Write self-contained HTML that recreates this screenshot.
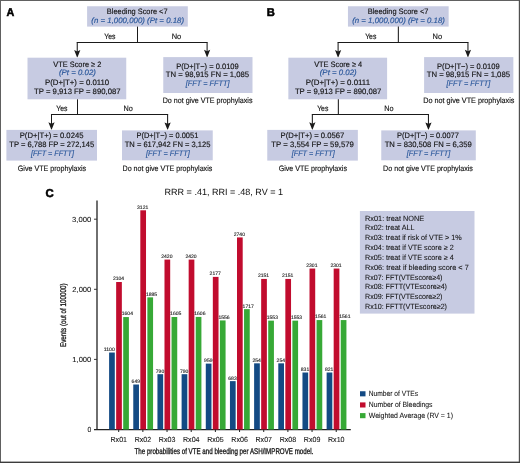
<!DOCTYPE html>
<html><head><meta charset="utf-8"><title>Figure</title>
<style>
html,body{margin:0;padding:0;background:#fff;}
body{width:520px;height:463px;overflow:hidden;font-family:"Liberation Sans",sans-serif;}
svg{display:block;will-change:transform;}
svg text{font-family:"Liberation Sans",sans-serif;text-rendering:geometricPrecision;}
</style></head><body>
<svg width="520" height="463" viewBox="0 0 520 463">
<rect x="0" y="0" width="520" height="463" fill="#ffffff"/>
<text x="6.50" y="15.80" font-size="11.4" text-anchor="start" fill="#000" font-weight="bold" textLength="7.80" lengthAdjust="spacingAndGlyphs" stroke="#000" stroke-width="0.55" stroke-linejoin="round">A</text>
<text x="266.80" y="15.80" font-size="11.2" text-anchor="start" fill="#000" font-weight="bold" stroke="#000" stroke-width="0.55" stroke-linejoin="round">B</text>
<rect x="87.10" y="6.25" width="100.70" height="20.35" fill="#c7cbe2"/>
<text x="137.20" y="14.40" font-size="7.8" text-anchor="middle" fill="#141414" textLength="60.75" lengthAdjust="spacingAndGlyphs" stroke="#141414" stroke-width="0.15" stroke-linejoin="round">Bleeding Score &lt;7</text>
<text x="137.70" y="23.30" font-size="7.8" text-anchor="middle" fill="#2a579b" font-style="italic" textLength="92.80" lengthAdjust="spacingAndGlyphs" stroke="#2a579b" stroke-width="0.15" stroke-linejoin="round">(n = 1,000,000) (Pt = 0.18)</text>
<line x1="137.50" y1="26.60" x2="137.50" y2="42.50" stroke="#1a1a1a" stroke-width="1.05"/>
<line x1="76.72" y1="42.50" x2="207.62" y2="42.50" stroke="#1a1a1a" stroke-width="1.05"/>
<line x1="77.25" y1="42.50" x2="77.25" y2="54.10" stroke="#1a1a1a" stroke-width="1.05"/>
<path d="M74.15,50.10 L77.25,51.50 L80.35,50.10 L77.50,57.30 L77.00,57.30 Z" fill="#1a1a1a"/>
<line x1="207.10" y1="42.50" x2="207.10" y2="53.80" stroke="#1a1a1a" stroke-width="1.05"/>
<path d="M204.00,49.80 L207.10,51.20 L210.20,49.80 L207.35,57.00 L206.85,57.00 Z" fill="#1a1a1a"/>
<text x="109.90" y="39.40" font-size="7.8" text-anchor="middle" fill="#141414" textLength="11.25" lengthAdjust="spacingAndGlyphs" stroke="#141414" stroke-width="0.15" stroke-linejoin="round">Yes</text>
<text x="176.50" y="39.40" font-size="7.8" text-anchor="middle" fill="#141414" textLength="9.50" lengthAdjust="spacingAndGlyphs" stroke="#141414" stroke-width="0.15" stroke-linejoin="round">No</text>
<rect x="27.50" y="57.70" width="98.75" height="41.60" fill="#c7cbe2"/>
<text x="77.30" y="66.60" font-size="7.8" text-anchor="middle" fill="#141414" textLength="48.00" lengthAdjust="spacingAndGlyphs" stroke="#141414" stroke-width="0.15" stroke-linejoin="round">VTE Score ≥ 2</text>
<text x="77.40" y="75.30" font-size="7.8" text-anchor="middle" fill="#2a579b" font-style="italic" textLength="37.00" lengthAdjust="spacingAndGlyphs" stroke="#2a579b" stroke-width="0.15" stroke-linejoin="round">(Pt = 0.02)</text>
<text x="77.10" y="84.50" font-size="7.8" text-anchor="middle" fill="#141414" textLength="64.25" lengthAdjust="spacingAndGlyphs" stroke="#141414" stroke-width="0.15" stroke-linejoin="round">P(D+|T+) = 0.0110</text>
<text x="77.30" y="93.50" font-size="7.8" text-anchor="middle" fill="#141414" textLength="86.50" lengthAdjust="spacingAndGlyphs" stroke="#141414" stroke-width="0.15" stroke-linejoin="round">TP = 9,913 FP = 890,087</text>
<rect x="163.25" y="57.10" width="89.25" height="35.90" fill="#c7cbe2"/>
<text x="207.50" y="68.75" font-size="7.8" text-anchor="middle" fill="#141414" textLength="62.50" lengthAdjust="spacingAndGlyphs" stroke="#141414" stroke-width="0.15" stroke-linejoin="round">P(D+|T−) = 0.0109</text>
<text x="207.50" y="77.40" font-size="7.8" text-anchor="middle" fill="#141414" textLength="83.30" lengthAdjust="spacingAndGlyphs" stroke="#141414" stroke-width="0.15" stroke-linejoin="round">TN = 98,915 FN = 1,085</text>
<text x="207.60" y="86.00" font-size="7.8" text-anchor="middle" fill="#2a579b" font-style="italic" textLength="43.75" lengthAdjust="spacingAndGlyphs" stroke="#2a579b" stroke-width="0.15" stroke-linejoin="round">[FFT = FFTT]</text>
<text x="207.60" y="103.25" font-size="7.8" text-anchor="middle" fill="#141414" textLength="89.80" lengthAdjust="spacingAndGlyphs" stroke="#141414" stroke-width="0.15" stroke-linejoin="round">Do not give VTE prophylaxis</text>
<line x1="77.50" y1="99.30" x2="77.50" y2="114.50" stroke="#1a1a1a" stroke-width="1.05"/>
<line x1="50.98" y1="114.50" x2="168.12" y2="114.50" stroke="#1a1a1a" stroke-width="1.05"/>
<line x1="51.50" y1="114.50" x2="51.50" y2="126.30" stroke="#1a1a1a" stroke-width="1.05"/>
<path d="M48.40,122.30 L51.50,123.70 L54.60,122.30 L51.75,129.50 L51.25,129.50 Z" fill="#1a1a1a"/>
<line x1="167.60" y1="114.50" x2="167.60" y2="126.40" stroke="#1a1a1a" stroke-width="1.05"/>
<path d="M164.50,122.40 L167.60,123.80 L170.70,122.40 L167.85,129.60 L167.35,129.60 Z" fill="#1a1a1a"/>
<text x="61.90" y="111.00" font-size="7.8" text-anchor="middle" fill="#141414" textLength="11.25" lengthAdjust="spacingAndGlyphs" stroke="#141414" stroke-width="0.15" stroke-linejoin="round">Yes</text>
<text x="128.10" y="111.00" font-size="7.8" text-anchor="middle" fill="#141414" textLength="9.30" lengthAdjust="spacingAndGlyphs" stroke="#141414" stroke-width="0.15" stroke-linejoin="round">No</text>
<rect x="6.40" y="129.90" width="90.60" height="30.70" fill="#c7cbe2"/>
<text x="51.60" y="138.40" font-size="7.8" text-anchor="middle" fill="#141414" textLength="63.70" lengthAdjust="spacingAndGlyphs" stroke="#141414" stroke-width="0.15" stroke-linejoin="round">P(D+|T+) = 0.0245</text>
<text x="51.75" y="147.25" font-size="7.8" text-anchor="middle" fill="#141414" textLength="85.00" lengthAdjust="spacingAndGlyphs" stroke="#141414" stroke-width="0.15" stroke-linejoin="round">TP = 6,788 FP = 272,145</text>
<text x="52.40" y="156.00" font-size="7.8" text-anchor="middle" fill="#2a579b" font-style="italic" textLength="43.00" lengthAdjust="spacingAndGlyphs" stroke="#2a579b" stroke-width="0.15" stroke-linejoin="round">[FFT = FFTT]</text>
<text x="52.00" y="170.50" font-size="7.8" text-anchor="middle" fill="#141414" textLength="68.30" lengthAdjust="spacingAndGlyphs" stroke="#141414" stroke-width="0.15" stroke-linejoin="round">Give VTE prophylaxis</text>
<rect x="122.00" y="130.40" width="90.75" height="29.90" fill="#c7cbe2"/>
<text x="167.40" y="138.30" font-size="7.8" text-anchor="middle" fill="#141414" textLength="61.80" lengthAdjust="spacingAndGlyphs" stroke="#141414" stroke-width="0.15" stroke-linejoin="round">P(D+|T−) = 0.0051</text>
<text x="167.60" y="147.25" font-size="7.8" text-anchor="middle" fill="#141414" textLength="85.80" lengthAdjust="spacingAndGlyphs" stroke="#141414" stroke-width="0.15" stroke-linejoin="round">TN = 617,942 FN = 3,125</text>
<text x="167.90" y="156.00" font-size="7.8" text-anchor="middle" fill="#2a579b" font-style="italic" textLength="43.60" lengthAdjust="spacingAndGlyphs" stroke="#2a579b" stroke-width="0.15" stroke-linejoin="round">[FFT = FFTT]</text>
<text x="167.40" y="170.60" font-size="7.8" text-anchor="middle" fill="#141414" textLength="89.80" lengthAdjust="spacingAndGlyphs" stroke="#141414" stroke-width="0.15" stroke-linejoin="round">Do not give VTE prophylaxis</text>
<rect x="347.95" y="6.25" width="100.70" height="20.35" fill="#c7cbe2"/>
<text x="398.05" y="14.40" font-size="7.8" text-anchor="middle" fill="#141414" textLength="60.75" lengthAdjust="spacingAndGlyphs" stroke="#141414" stroke-width="0.15" stroke-linejoin="round">Bleeding Score &lt;7</text>
<text x="398.55" y="23.30" font-size="7.8" text-anchor="middle" fill="#2a579b" font-style="italic" textLength="92.80" lengthAdjust="spacingAndGlyphs" stroke="#2a579b" stroke-width="0.15" stroke-linejoin="round">(n = 1,000,000) (Pt = 0.18)</text>
<line x1="398.35" y1="26.60" x2="398.35" y2="42.50" stroke="#1a1a1a" stroke-width="1.05"/>
<line x1="337.58" y1="42.50" x2="468.48" y2="42.50" stroke="#1a1a1a" stroke-width="1.05"/>
<line x1="338.10" y1="42.50" x2="338.10" y2="54.10" stroke="#1a1a1a" stroke-width="1.05"/>
<path d="M335.00,50.10 L338.10,51.50 L341.20,50.10 L338.35,57.30 L337.85,57.30 Z" fill="#1a1a1a"/>
<line x1="467.95" y1="42.50" x2="467.95" y2="53.80" stroke="#1a1a1a" stroke-width="1.05"/>
<path d="M464.85,49.80 L467.95,51.20 L471.05,49.80 L468.20,57.00 L467.70,57.00 Z" fill="#1a1a1a"/>
<text x="370.75" y="39.40" font-size="7.8" text-anchor="middle" fill="#141414" textLength="11.25" lengthAdjust="spacingAndGlyphs" stroke="#141414" stroke-width="0.15" stroke-linejoin="round">Yes</text>
<text x="437.35" y="39.40" font-size="7.8" text-anchor="middle" fill="#141414" textLength="9.50" lengthAdjust="spacingAndGlyphs" stroke="#141414" stroke-width="0.15" stroke-linejoin="round">No</text>
<rect x="288.35" y="57.70" width="98.75" height="41.60" fill="#c7cbe2"/>
<text x="338.15" y="66.60" font-size="7.8" text-anchor="middle" fill="#141414" textLength="48.00" lengthAdjust="spacingAndGlyphs" stroke="#141414" stroke-width="0.15" stroke-linejoin="round">VTE Score ≥ 4</text>
<text x="338.25" y="75.30" font-size="7.8" text-anchor="middle" fill="#2a579b" font-style="italic" textLength="37.00" lengthAdjust="spacingAndGlyphs" stroke="#2a579b" stroke-width="0.15" stroke-linejoin="round">(Pt = 0.02)</text>
<text x="337.95" y="84.50" font-size="7.8" text-anchor="middle" fill="#141414" textLength="64.25" lengthAdjust="spacingAndGlyphs" stroke="#141414" stroke-width="0.15" stroke-linejoin="round">P(D+|T+) = 0.0111</text>
<text x="338.15" y="93.50" font-size="7.8" text-anchor="middle" fill="#141414" textLength="86.50" lengthAdjust="spacingAndGlyphs" stroke="#141414" stroke-width="0.15" stroke-linejoin="round">TP = 9,913 FP = 890,087</text>
<rect x="424.10" y="57.10" width="89.25" height="35.90" fill="#c7cbe2"/>
<text x="468.35" y="68.75" font-size="7.8" text-anchor="middle" fill="#141414" textLength="62.50" lengthAdjust="spacingAndGlyphs" stroke="#141414" stroke-width="0.15" stroke-linejoin="round">P(D+|T−) = 0.0109</text>
<text x="468.35" y="77.40" font-size="7.8" text-anchor="middle" fill="#141414" textLength="83.30" lengthAdjust="spacingAndGlyphs" stroke="#141414" stroke-width="0.15" stroke-linejoin="round">TN = 98,915 FN = 1,085</text>
<text x="468.45" y="86.00" font-size="7.8" text-anchor="middle" fill="#2a579b" font-style="italic" textLength="43.75" lengthAdjust="spacingAndGlyphs" stroke="#2a579b" stroke-width="0.15" stroke-linejoin="round">[FFT = FFTT]</text>
<text x="468.85" y="103.25" font-size="7.8" text-anchor="middle" fill="#141414" textLength="91.20" lengthAdjust="spacingAndGlyphs" stroke="#141414" stroke-width="0.15" stroke-linejoin="round">Do not give VTE prophylaxis</text>
<line x1="338.35" y1="99.30" x2="338.35" y2="114.50" stroke="#1a1a1a" stroke-width="1.05"/>
<line x1="311.83" y1="114.50" x2="428.98" y2="114.50" stroke="#1a1a1a" stroke-width="1.05"/>
<line x1="312.35" y1="114.50" x2="312.35" y2="126.30" stroke="#1a1a1a" stroke-width="1.05"/>
<path d="M309.25,122.30 L312.35,123.70 L315.45,122.30 L312.60,129.50 L312.10,129.50 Z" fill="#1a1a1a"/>
<line x1="428.45" y1="114.50" x2="428.45" y2="126.40" stroke="#1a1a1a" stroke-width="1.05"/>
<path d="M425.35,122.40 L428.45,123.80 L431.55,122.40 L428.70,129.60 L428.20,129.60 Z" fill="#1a1a1a"/>
<text x="322.75" y="111.00" font-size="7.8" text-anchor="middle" fill="#141414" textLength="11.25" lengthAdjust="spacingAndGlyphs" stroke="#141414" stroke-width="0.15" stroke-linejoin="round">Yes</text>
<text x="388.95" y="111.00" font-size="7.8" text-anchor="middle" fill="#141414" textLength="9.30" lengthAdjust="spacingAndGlyphs" stroke="#141414" stroke-width="0.15" stroke-linejoin="round">No</text>
<rect x="267.25" y="129.90" width="90.60" height="30.70" fill="#c7cbe2"/>
<text x="312.45" y="138.40" font-size="7.8" text-anchor="middle" fill="#141414" textLength="63.70" lengthAdjust="spacingAndGlyphs" stroke="#141414" stroke-width="0.15" stroke-linejoin="round">P(D+|T+) = 0.0567</text>
<text x="312.60" y="147.25" font-size="7.8" text-anchor="middle" fill="#141414" textLength="82.50" lengthAdjust="spacingAndGlyphs" stroke="#141414" stroke-width="0.15" stroke-linejoin="round">TP = 3,554 FP = 59,579</text>
<text x="313.25" y="156.00" font-size="7.8" text-anchor="middle" fill="#2a579b" font-style="italic" textLength="43.00" lengthAdjust="spacingAndGlyphs" stroke="#2a579b" stroke-width="0.15" stroke-linejoin="round">[FFT = FFTT]</text>
<text x="312.85" y="170.50" font-size="7.8" text-anchor="middle" fill="#141414" textLength="68.30" lengthAdjust="spacingAndGlyphs" stroke="#141414" stroke-width="0.15" stroke-linejoin="round">Give VTE prophylaxis</text>
<rect x="381.25" y="130.40" width="94.55" height="29.90" fill="#c7cbe2"/>
<text x="428.00" y="138.30" font-size="7.8" text-anchor="middle" fill="#141414" textLength="61.80" lengthAdjust="spacingAndGlyphs" stroke="#141414" stroke-width="0.15" stroke-linejoin="round">P(D+|T−) = 0.0077</text>
<text x="428.20" y="147.25" font-size="7.8" text-anchor="middle" fill="#141414" textLength="87.00" lengthAdjust="spacingAndGlyphs" stroke="#141414" stroke-width="0.15" stroke-linejoin="round">TN = 830,508 FN = 6,359</text>
<text x="428.50" y="156.00" font-size="7.8" text-anchor="middle" fill="#2a579b" font-style="italic" textLength="43.60" lengthAdjust="spacingAndGlyphs" stroke="#2a579b" stroke-width="0.15" stroke-linejoin="round">[FFT = FFTT]</text>
<text x="428.00" y="170.60" font-size="7.8" text-anchor="middle" fill="#141414" textLength="89.80" lengthAdjust="spacingAndGlyphs" stroke="#141414" stroke-width="0.15" stroke-linejoin="round">Do not give VTE prophylaxis</text>
<text x="45.40" y="197.10" font-size="11.4" text-anchor="start" fill="#000" font-weight="bold" stroke="#000" stroke-width="0.55" stroke-linejoin="round">C</text>
<text x="223.80" y="195.00" font-size="9.1" text-anchor="middle" fill="#141414" textLength="118.50" lengthAdjust="spacingAndGlyphs" stroke="#141414" stroke-width="0.04" stroke-linejoin="round">RRR = .41, RRI = .48, RV = 1</text>
<line x1="97.00" y1="200.40" x2="97.00" y2="430.10" stroke="#222222" stroke-width="1.3"/>
<line x1="94.00" y1="429.50" x2="350.80" y2="429.50" stroke="#222222" stroke-width="1.25"/>
<text x="91.30" y="431.80" font-size="7.3" text-anchor="end" fill="#141414" textLength="3.80" lengthAdjust="spacingAndGlyphs" stroke="#141414" stroke-width="0.08" stroke-linejoin="round">0</text>
<line x1="94.00" y1="359.40" x2="96.90" y2="359.40" stroke="#222222" stroke-width="0.9"/>
<text x="91.30" y="361.70" font-size="7.3" text-anchor="end" fill="#141414" textLength="19.00" lengthAdjust="spacingAndGlyphs" stroke="#141414" stroke-width="0.08" stroke-linejoin="round">1,000</text>
<line x1="94.00" y1="289.30" x2="96.90" y2="289.30" stroke="#222222" stroke-width="0.9"/>
<text x="91.30" y="291.60" font-size="7.3" text-anchor="end" fill="#141414" textLength="19.00" lengthAdjust="spacingAndGlyphs" stroke="#141414" stroke-width="0.08" stroke-linejoin="round">2,000</text>
<line x1="94.00" y1="219.20" x2="96.90" y2="219.20" stroke="#222222" stroke-width="0.9"/>
<text x="91.30" y="221.50" font-size="7.3" text-anchor="end" fill="#141414" textLength="19.20" lengthAdjust="spacingAndGlyphs" stroke="#141414" stroke-width="0.08" stroke-linejoin="round">3,000</text>
<rect x="109.10" y="352.53" width="5.7" height="76.97" fill="#134a84"/>
<rect x="116.15" y="282.01" width="5.7" height="147.49" fill="#c10c2e"/>
<rect x="123.20" y="317.06" width="5.7" height="112.44" fill="#37a936"/>
<text x="109.25" y="350.93" font-size="5.0" text-anchor="middle" fill="#222" stroke="#222" stroke-width="0.12" textLength="11.2" lengthAdjust="spacingAndGlyphs">1100</text>
<text x="118.50" y="280.41" font-size="5.0" text-anchor="middle" fill="#222" stroke="#222" stroke-width="0.12" textLength="11.2" lengthAdjust="spacingAndGlyphs">2104</text>
<text x="127.35" y="315.46" font-size="5.0" text-anchor="middle" fill="#222" stroke="#222" stroke-width="0.12" textLength="11.2" lengthAdjust="spacingAndGlyphs">1604</text>
<line x1="118.70" y1="429.50" x2="118.70" y2="432.00" stroke="#222222" stroke-width="1.0"/>
<text x="118.75" y="441.90" font-size="7.4" text-anchor="middle" fill="#141414" textLength="16.50" lengthAdjust="spacingAndGlyphs" stroke="#141414" stroke-width="0.08" stroke-linejoin="round">Rx01</text>
<rect x="133.27" y="384.50" width="5.7" height="45.00" fill="#134a84"/>
<rect x="140.32" y="210.30" width="5.7" height="219.20" fill="#c10c2e"/>
<rect x="147.37" y="297.36" width="5.7" height="132.14" fill="#37a936"/>
<text x="135.82" y="382.90" font-size="5.0" text-anchor="middle" fill="#222" stroke="#222" stroke-width="0.12" textLength="8.4" lengthAdjust="spacingAndGlyphs">649</text>
<text x="142.67" y="208.70" font-size="5.0" text-anchor="middle" fill="#222" stroke="#222" stroke-width="0.12" textLength="11.2" lengthAdjust="spacingAndGlyphs">3121</text>
<text x="151.52" y="295.76" font-size="5.0" text-anchor="middle" fill="#222" stroke="#222" stroke-width="0.12" textLength="11.2" lengthAdjust="spacingAndGlyphs">1885</text>
<line x1="142.87" y1="429.50" x2="142.87" y2="432.00" stroke="#222222" stroke-width="1.0"/>
<text x="142.92" y="441.90" font-size="7.4" text-anchor="middle" fill="#141414" textLength="16.50" lengthAdjust="spacingAndGlyphs" stroke="#141414" stroke-width="0.08" stroke-linejoin="round">Rx02</text>
<rect x="157.44" y="374.19" width="5.7" height="55.31" fill="#134a84"/>
<rect x="164.49" y="259.58" width="5.7" height="169.92" fill="#c10c2e"/>
<rect x="171.54" y="316.99" width="5.7" height="112.51" fill="#37a936"/>
<text x="159.99" y="372.59" font-size="5.0" text-anchor="middle" fill="#222" stroke="#222" stroke-width="0.12" textLength="8.4" lengthAdjust="spacingAndGlyphs">790</text>
<text x="166.84" y="257.98" font-size="5.0" text-anchor="middle" fill="#222" stroke="#222" stroke-width="0.12" textLength="11.2" lengthAdjust="spacingAndGlyphs">2420</text>
<text x="175.69" y="315.39" font-size="5.0" text-anchor="middle" fill="#222" stroke="#222" stroke-width="0.12" textLength="11.2" lengthAdjust="spacingAndGlyphs">1605</text>
<line x1="167.04" y1="429.50" x2="167.04" y2="432.00" stroke="#222222" stroke-width="1.0"/>
<text x="167.09" y="441.90" font-size="7.4" text-anchor="middle" fill="#141414" textLength="16.50" lengthAdjust="spacingAndGlyphs" stroke="#141414" stroke-width="0.08" stroke-linejoin="round">Rx03</text>
<rect x="181.61" y="374.19" width="5.7" height="55.31" fill="#134a84"/>
<rect x="188.66" y="259.58" width="5.7" height="169.92" fill="#c10c2e"/>
<rect x="195.71" y="316.92" width="5.7" height="112.58" fill="#37a936"/>
<text x="184.16" y="372.59" font-size="5.0" text-anchor="middle" fill="#222" stroke="#222" stroke-width="0.12" textLength="8.4" lengthAdjust="spacingAndGlyphs">790</text>
<text x="191.01" y="257.98" font-size="5.0" text-anchor="middle" fill="#222" stroke="#222" stroke-width="0.12" textLength="11.2" lengthAdjust="spacingAndGlyphs">2420</text>
<text x="199.86" y="315.32" font-size="5.0" text-anchor="middle" fill="#222" stroke="#222" stroke-width="0.12" textLength="11.2" lengthAdjust="spacingAndGlyphs">1606</text>
<line x1="191.21" y1="429.50" x2="191.21" y2="432.00" stroke="#222222" stroke-width="1.0"/>
<text x="191.26" y="441.90" font-size="7.4" text-anchor="middle" fill="#141414" textLength="16.50" lengthAdjust="spacingAndGlyphs" stroke="#141414" stroke-width="0.08" stroke-linejoin="round">Rx04</text>
<rect x="205.78" y="363.61" width="5.7" height="65.89" fill="#134a84"/>
<rect x="212.83" y="276.89" width="5.7" height="152.61" fill="#c10c2e"/>
<rect x="219.88" y="320.42" width="5.7" height="109.08" fill="#37a936"/>
<text x="208.33" y="362.01" font-size="5.0" text-anchor="middle" fill="#222" stroke="#222" stroke-width="0.12" textLength="8.4" lengthAdjust="spacingAndGlyphs">959</text>
<text x="215.18" y="275.29" font-size="5.0" text-anchor="middle" fill="#222" stroke="#222" stroke-width="0.12" textLength="11.2" lengthAdjust="spacingAndGlyphs">2177</text>
<text x="224.03" y="318.82" font-size="5.0" text-anchor="middle" fill="#222" stroke="#222" stroke-width="0.12" textLength="11.2" lengthAdjust="spacingAndGlyphs">1556</text>
<line x1="215.38" y1="429.50" x2="215.38" y2="432.00" stroke="#222222" stroke-width="1.0"/>
<text x="215.43" y="441.90" font-size="7.4" text-anchor="middle" fill="#141414" textLength="16.50" lengthAdjust="spacingAndGlyphs" stroke="#141414" stroke-width="0.08" stroke-linejoin="round">Rx05</text>
<rect x="229.95" y="381.13" width="5.7" height="48.37" fill="#134a84"/>
<rect x="237.00" y="237.43" width="5.7" height="192.07" fill="#c10c2e"/>
<rect x="244.05" y="309.14" width="5.7" height="120.36" fill="#37a936"/>
<text x="232.50" y="379.53" font-size="5.0" text-anchor="middle" fill="#222" stroke="#222" stroke-width="0.12" textLength="8.4" lengthAdjust="spacingAndGlyphs">683</text>
<text x="239.35" y="235.83" font-size="5.0" text-anchor="middle" fill="#222" stroke="#222" stroke-width="0.12" textLength="11.2" lengthAdjust="spacingAndGlyphs">2740</text>
<text x="248.20" y="307.54" font-size="5.0" text-anchor="middle" fill="#222" stroke="#222" stroke-width="0.12" textLength="11.2" lengthAdjust="spacingAndGlyphs">1717</text>
<line x1="239.55" y1="429.50" x2="239.55" y2="432.00" stroke="#222222" stroke-width="1.0"/>
<text x="239.60" y="441.90" font-size="7.4" text-anchor="middle" fill="#141414" textLength="16.50" lengthAdjust="spacingAndGlyphs" stroke="#141414" stroke-width="0.08" stroke-linejoin="round">Rx06</text>
<rect x="254.12" y="363.33" width="5.7" height="66.17" fill="#134a84"/>
<rect x="261.17" y="278.93" width="5.7" height="150.57" fill="#c10c2e"/>
<rect x="268.22" y="320.63" width="5.7" height="108.87" fill="#37a936"/>
<text x="256.67" y="361.73" font-size="5.0" text-anchor="middle" fill="#222" stroke="#222" stroke-width="0.12" textLength="8.4" lengthAdjust="spacingAndGlyphs">254</text>
<text x="263.52" y="277.33" font-size="5.0" text-anchor="middle" fill="#222" stroke="#222" stroke-width="0.12" textLength="11.2" lengthAdjust="spacingAndGlyphs">2151</text>
<text x="272.37" y="319.03" font-size="5.0" text-anchor="middle" fill="#222" stroke="#222" stroke-width="0.12" textLength="11.2" lengthAdjust="spacingAndGlyphs">1553</text>
<line x1="263.72" y1="429.50" x2="263.72" y2="432.00" stroke="#222222" stroke-width="1.0"/>
<text x="263.77" y="441.90" font-size="7.4" text-anchor="middle" fill="#141414" textLength="16.50" lengthAdjust="spacingAndGlyphs" stroke="#141414" stroke-width="0.08" stroke-linejoin="round">Rx07</text>
<rect x="278.29" y="363.33" width="5.7" height="66.17" fill="#134a84"/>
<rect x="285.34" y="278.93" width="5.7" height="150.57" fill="#c10c2e"/>
<rect x="292.39" y="320.63" width="5.7" height="108.87" fill="#37a936"/>
<text x="280.84" y="361.73" font-size="5.0" text-anchor="middle" fill="#222" stroke="#222" stroke-width="0.12" textLength="8.4" lengthAdjust="spacingAndGlyphs">254</text>
<text x="287.69" y="277.33" font-size="5.0" text-anchor="middle" fill="#222" stroke="#222" stroke-width="0.12" textLength="11.2" lengthAdjust="spacingAndGlyphs">2151</text>
<text x="296.54" y="319.03" font-size="5.0" text-anchor="middle" fill="#222" stroke="#222" stroke-width="0.12" textLength="11.2" lengthAdjust="spacingAndGlyphs">1553</text>
<line x1="287.89" y1="429.50" x2="287.89" y2="432.00" stroke="#222222" stroke-width="1.0"/>
<text x="287.94" y="441.90" font-size="7.4" text-anchor="middle" fill="#141414" textLength="16.50" lengthAdjust="spacingAndGlyphs" stroke="#141414" stroke-width="0.08" stroke-linejoin="round">Rx08</text>
<rect x="302.46" y="372.51" width="5.7" height="56.99" fill="#134a84"/>
<rect x="309.51" y="268.55" width="5.7" height="160.95" fill="#c10c2e"/>
<rect x="316.56" y="320.07" width="5.7" height="109.43" fill="#37a936"/>
<text x="305.01" y="370.91" font-size="5.0" text-anchor="middle" fill="#222" stroke="#222" stroke-width="0.12" textLength="8.4" lengthAdjust="spacingAndGlyphs">831</text>
<text x="311.86" y="266.95" font-size="5.0" text-anchor="middle" fill="#222" stroke="#222" stroke-width="0.12" textLength="11.2" lengthAdjust="spacingAndGlyphs">2301</text>
<text x="320.71" y="318.47" font-size="5.0" text-anchor="middle" fill="#222" stroke="#222" stroke-width="0.12" textLength="11.2" lengthAdjust="spacingAndGlyphs">1561</text>
<line x1="312.06" y1="429.50" x2="312.06" y2="432.00" stroke="#222222" stroke-width="1.0"/>
<text x="312.11" y="441.90" font-size="7.4" text-anchor="middle" fill="#141414" textLength="16.50" lengthAdjust="spacingAndGlyphs" stroke="#141414" stroke-width="0.08" stroke-linejoin="round">Rx09</text>
<rect x="326.63" y="372.51" width="5.7" height="56.99" fill="#134a84"/>
<rect x="333.68" y="268.55" width="5.7" height="160.95" fill="#c10c2e"/>
<rect x="340.73" y="320.07" width="5.7" height="109.43" fill="#37a936"/>
<text x="329.18" y="370.91" font-size="5.0" text-anchor="middle" fill="#222" stroke="#222" stroke-width="0.12" textLength="8.4" lengthAdjust="spacingAndGlyphs">821</text>
<text x="336.03" y="266.95" font-size="5.0" text-anchor="middle" fill="#222" stroke="#222" stroke-width="0.12" textLength="11.2" lengthAdjust="spacingAndGlyphs">2301</text>
<text x="344.88" y="318.47" font-size="5.0" text-anchor="middle" fill="#222" stroke="#222" stroke-width="0.12" textLength="11.2" lengthAdjust="spacingAndGlyphs">1561</text>
<line x1="336.23" y1="429.50" x2="336.23" y2="432.00" stroke="#222222" stroke-width="1.0"/>
<text x="336.28" y="441.90" font-size="7.4" text-anchor="middle" fill="#141414" textLength="16.50" lengthAdjust="spacingAndGlyphs" stroke="#141414" stroke-width="0.08" stroke-linejoin="round">Rx10</text>
<text transform="translate(66.1,315.2) rotate(-90)" font-size="8.3" text-anchor="middle" fill="#141414" stroke="#141414" stroke-width="0.3" textLength="63.7" lengthAdjust="spacingAndGlyphs">Events (out of 100000)</text>
<text x="223.9" y="454.3" font-size="8.3" text-anchor="middle" fill="#141414" stroke="#141414" stroke-width="0.3" textLength="178.75" lengthAdjust="spacingAndGlyphs">The probabilities of VTE and bleeding per ASH/IMPROVE model.</text>
<rect x="359.90" y="211.00" width="114.60" height="102.60" fill="#c7cbe2"/>
<text x="365.00" y="220.60" font-size="7.6" text-anchor="start" fill="#141414" textLength="59.25" lengthAdjust="spacingAndGlyphs" stroke="#141414" stroke-width="0.08" stroke-linejoin="round">Rx01: treat NONE</text>
<text x="365.00" y="230.40" font-size="7.6" text-anchor="start" fill="#141414" textLength="49.50" lengthAdjust="spacingAndGlyphs" stroke="#141414" stroke-width="0.08" stroke-linejoin="round">Rx02: treat ALL</text>
<text x="365.00" y="240.00" font-size="7.6" text-anchor="start" fill="#141414" textLength="96.75" lengthAdjust="spacingAndGlyphs" stroke="#141414" stroke-width="0.08" stroke-linejoin="round">Rx03: treat if risk of VTE &gt; 1%</text>
<text x="365.00" y="249.80" font-size="7.6" text-anchor="start" fill="#141414" textLength="88.75" lengthAdjust="spacingAndGlyphs" stroke="#141414" stroke-width="0.08" stroke-linejoin="round">Rx04: treat if VTE score ≥ 2</text>
<text x="365.00" y="259.60" font-size="7.6" text-anchor="start" fill="#141414" textLength="88.75" lengthAdjust="spacingAndGlyphs" stroke="#141414" stroke-width="0.08" stroke-linejoin="round">Rx05: treat if VTE score ≥ 4</text>
<text x="365.00" y="269.50" font-size="7.6" text-anchor="start" fill="#141414" textLength="103.75" lengthAdjust="spacingAndGlyphs" stroke="#141414" stroke-width="0.08" stroke-linejoin="round">Rx06: treat if bleeding score &lt; 7</text>
<text x="365.00" y="279.50" font-size="7.6" text-anchor="start" fill="#141414" textLength="77.50" lengthAdjust="spacingAndGlyphs" stroke="#141414" stroke-width="0.08" stroke-linejoin="round">Rx07: FFT(VTEscore≥4)</text>
<text x="365.00" y="289.40" font-size="7.6" text-anchor="start" fill="#141414" textLength="82.00" lengthAdjust="spacingAndGlyphs" stroke="#141414" stroke-width="0.08" stroke-linejoin="round">Rx08: FFTT(VTEscore≥4)</text>
<text x="365.00" y="299.40" font-size="7.6" text-anchor="start" fill="#141414" textLength="77.50" lengthAdjust="spacingAndGlyphs" stroke="#141414" stroke-width="0.08" stroke-linejoin="round">Rx09: FFT(VTEscore≥2)</text>
<text x="365.00" y="309.20" font-size="7.6" text-anchor="start" fill="#141414" textLength="82.00" lengthAdjust="spacingAndGlyphs" stroke="#141414" stroke-width="0.08" stroke-linejoin="round">Rx10: FFTT(VTEscore≥2)</text>
<rect x="360" y="391.25" width="5.5" height="5.1" fill="#134a84"/>
<text x="368.75" y="396.25" font-size="7.6" text-anchor="start" fill="#141414" textLength="49.25" lengthAdjust="spacingAndGlyphs" stroke="#141414" stroke-width="0.08" stroke-linejoin="round">Number of VTEs</text>
<rect x="360" y="402.4" width="5.5" height="5.1" fill="#c10c2e"/>
<text x="368.75" y="407.10" font-size="7.6" text-anchor="start" fill="#141414" textLength="63.75" lengthAdjust="spacingAndGlyphs" stroke="#141414" stroke-width="0.08" stroke-linejoin="round">Number of Bleedings</text>
<rect x="360" y="413.1" width="5.5" height="5.1" fill="#37a936"/>
<text x="368.75" y="418.00" font-size="7.6" text-anchor="start" fill="#141414" textLength="84.25" lengthAdjust="spacingAndGlyphs" stroke="#141414" stroke-width="0.08" stroke-linejoin="round">Weighted Average (RV = 1)</text>
<rect x="0" y="0" width="520" height="0.9" fill="#505050"/>
<rect x="0" y="0" width="1.0" height="463" fill="#606060"/>
<rect x="518.8" y="0" width="1.2" height="463" fill="#505050"/>
<rect x="0" y="461.6" width="520" height="1.4" fill="#3c3c3c"/>
</svg>
</body></html>
